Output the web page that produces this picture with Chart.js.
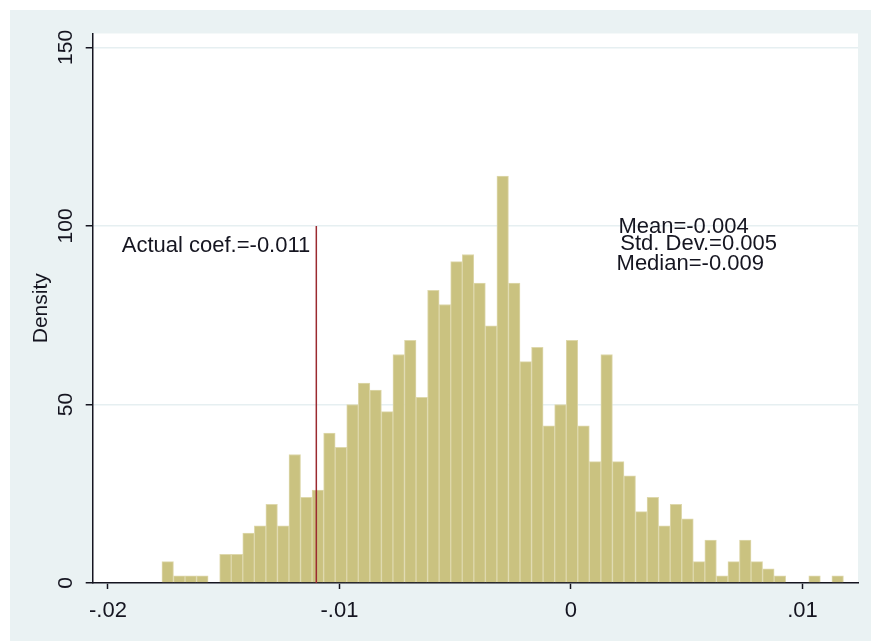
<!DOCTYPE html>
<html>
<head>
<meta charset="utf-8">
<script src="https://cdn.jsdelivr.net/npm/chart.js@4.4.0/dist/chart.umd.min.js"></script>
<style>
  html, body { margin: 0; padding: 0; background: #ffffff; }
  canvas { display: block; }
</style>
</head>
<body>
<canvas id="chart" width="871" height="641"></canvas>
<script>
// histogram bins (density)
const binStart = -0.01767;
const binWidth = 0.000499;
const densities = [6, 2, 2, 2, 0, 8, 8, 14, 16, 22, 16, 36, 24, 26, 42, 38, 50, 56, 54, 48,
                   64, 68, 52, 82, 78, 90, 92, 84, 72, 114, 84, 62, 66, 44, 50, 68, 44, 34, 64, 34,
                   30, 20, 24, 16, 22, 18, 6, 12, 2, 6, 12, 6, 4, 2, 0, 0, 2, 0, 2];

const xTickValues = [-0.02, -0.01, 0, 0.01];
const xTickLabels = ["-.02", "-.01", "0", ".01"];
const yTickValues = [0, 50, 100, 150];

const actualCoef = -0.011;
const actualTop = 100;
const statLines = ["Mean=-0.004", "Std. Dev.=0.005", "Median=-0.009"];

const FONT = "'Liberation Sans', Arial, sans-serif";
const INK = "#151520";

const points = densities.map((d, i) => ({ x: binStart + binWidth * (i + 0.5), y: d }));

const backdrop = {
  id: "backdrop",
  beforeDraw(chart) {
    const { ctx, chartArea: a } = chart;
    ctx.save();
    ctx.fillStyle = "#eaf2f3";
    ctx.fillRect(10, 10, chart.width - 10, chart.height - 10);
    ctx.fillStyle = "#ffffff";
    ctx.fillRect(a.left, a.top, a.right - a.left, a.bottom - a.top);
    ctx.restore();
  }
};

// text placed in data units, like Stata's text() option
const notes = {
  id: "notes",
  afterDatasetsDraw(chart) {
    const { ctx } = chart;
    const x = chart.scales.x, y = chart.scales.y;
    ctx.save();
    ctx.font = "22px " + FONT;
    ctx.fillStyle = INK;
    ctx.textBaseline = "alphabetic";
    ctx.textAlign = "right";
    ctx.fillText("Actual coef.=-0.011", x.getPixelForValue(-0.01126), y.getPixelForValue(92.7));
    ctx.textAlign = "left";
    const spots = [[0.00205, 97.9], [0.00213, 93.4], [0.00197, 87.8]];
    statLines.forEach((t, i) => {
      ctx.fillText(t, x.getPixelForValue(spots[i][0]), y.getPixelForValue(spots[i][1]));
    });
    ctx.restore();
  }
};

new Chart(document.getElementById("chart"), {
  type: "bar",
  data: {
    datasets: [
      {
        type: "line",
        data: [{ x: actualCoef, y: 0 }, { x: actualCoef, y: actualTop }],
        borderColor: "#9b2a30",
        borderWidth: 1.5,
        pointRadius: 0,
        order: 0
      },
      {
        data: points,
        backgroundColor: "rgb(202, 194, 128)",
        borderColor: "rgb(222, 216, 172)",
        borderWidth: 1,
        borderSkipped: "bottom",
        barPercentage: 1,
        categoryPercentage: 1,
        order: 1
      }
    ]
  },
  options: {
    responsive: false,
    devicePixelRatio: 1,
    animation: false,
    layout: { padding: { left: 10, top: 33.5, right: 13, bottom: 0 } },
    plugins: { legend: { display: false }, tooltip: { enabled: false } },
    scales: {
      x: {
        type: "linear",
        min: -0.02066,
        max: 0.0124,
        offset: false,
        afterBuildTicks: s => { s.ticks = xTickValues.map(v => ({ value: v })); },
        afterFit: s => { s.height = 58; },
        grid: { offset: false, drawOnChartArea: false, tickLength: 6, tickColor: INK, tickWidth: 1.5 },
        border: { color: INK, width: 1.5 },
        ticks: {
          padding: 9,
          maxRotation: 0,
          color: INK,
          font: { family: FONT, size: 22 },
          callback: (v, i) => xTickLabels[i]
        }
      },
      y: {
        min: 0,
        max: 153.9,
        afterBuildTicks: s => { s.ticks = yTickValues.map(v => ({ value: v })); },
        afterFit: s => { s.width = 82.7; },
        grid: { color: "#e6eff1", lineWidth: 1.5, tickLength: 7, tickColor: INK, tickWidth: 1.5 },
        border: { color: INK, width: 1.5 },
        ticks: {
          minRotation: 90,
          maxRotation: 90,
          crossAlign: "center",
          padding: 2,
          color: INK,
          font: { family: FONT, size: 21 }
        },
        title: {
          display: true,
          text: "Density",
          color: INK,
          font: { family: FONT, size: 21 },
          padding: { top: 19, bottom: 0 }
        }
      }
    }
  },
  plugins: [backdrop, notes]
});
</script>
</body>
</html>
